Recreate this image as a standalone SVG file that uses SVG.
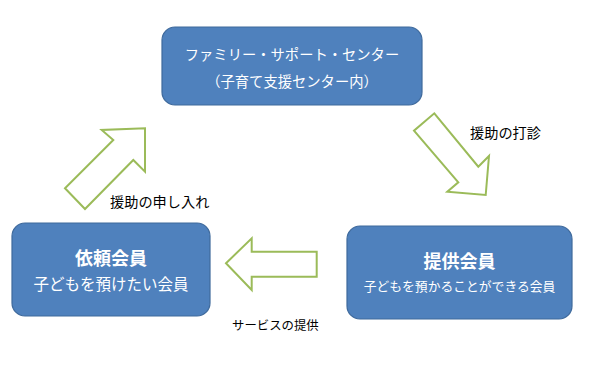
<svg xmlns="http://www.w3.org/2000/svg" width="600" height="373" viewBox="0 0 600 373">
<style>
.box{fill:#4F81BD;stroke:#3F6A9C;stroke-width:1.2}
.arr{fill:#FFFFFF;stroke:#9BBB59;stroke-width:2;stroke-linejoin:miter}
.wt{fill:#FFFFFF;font-family:"Noto Sans CJK JP","Noto Sans CJK SC",sans-serif;text-anchor:middle;dominant-baseline:central}
.lb{fill:#000000;font-family:"Noto Sans CJK JP","Noto Sans CJK SC",sans-serif;font-size:14.2px;dominant-baseline:central}
.sm{font-size:12.4px}
</style>
<rect width="600" height="373" fill="#FFFFFF"/>
<g id="center">
<rect class="box" x="162" y="27" width="260" height="78" rx="13"/>
<text class="wt" x="292" y="53" font-size="14.3">ファミリー・サポート・センター</text>
<text class="wt" x="292" y="80" font-size="14.3">（子育て支援センター内）</text>
</g>
<g id="requester">
<rect class="box" x="12" y="223" width="198" height="93" rx="13"/>
<text class="wt" x="111" y="257" font-size="18" font-weight="bold">依頼会員</text>
<text class="wt" x="111" y="283" font-size="15.5">子どもを預けたい会員</text>
</g>
<g id="provider">
<rect class="box" x="347" y="226" width="225" height="93" rx="13"/>
<text class="wt" x="459.5" y="260" font-size="18" font-weight="bold">提供会員</text>
<text class="wt" x="459.5" y="285" font-size="12.8">子どもを預かることができる会員</text>
</g>
<g id="connectors">
<polygon class="arr" points="434.3,113.3 478.3,166.7 489,156 485.7,195 447.3,191.7 458.3,182.3 414,130.7"/>
<polygon class="arr" points="226,263.3 251.7,238.3 251.7,251.7 316.7,251.7 316.7,276.7 251.7,276.7 251.7,290"/>
<polygon class="arr" points="65,188.3 85,209 133.3,160 145,171.7 145,128.3 101.7,130 113.3,140"/>
<text class="lb" x="470" y="132">援助の打診</text>
<text class="lb sm" x="232" y="325">サービスの提供</text>
<text class="lb" x="110" y="201">援助の申し入れ</text>
</g>
</svg>
